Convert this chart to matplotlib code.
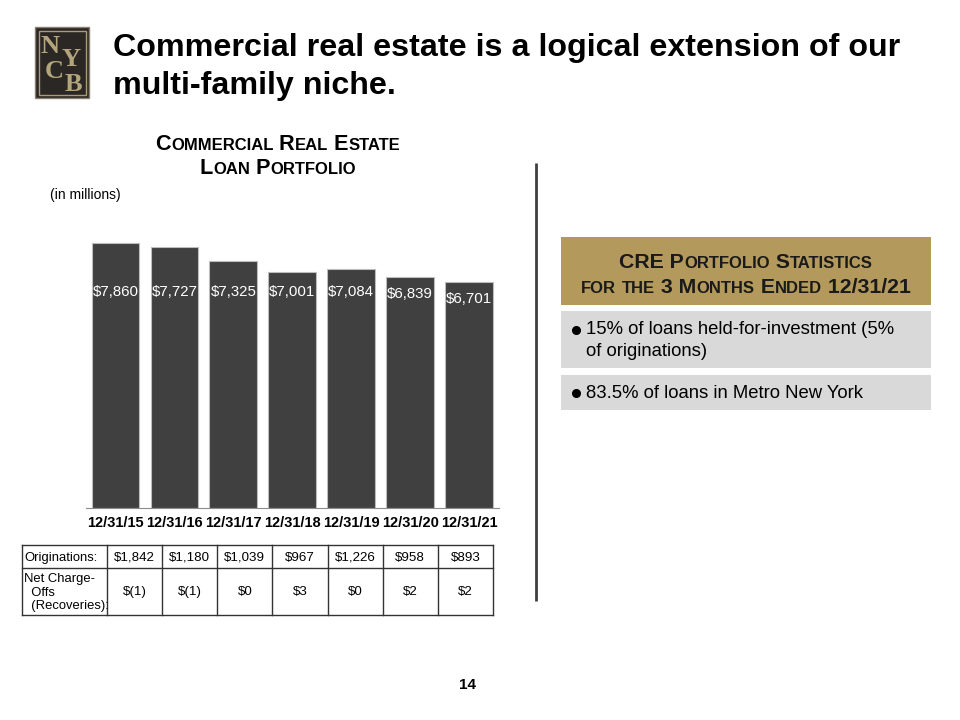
import numpy as np
import matplotlib
matplotlib.use('Agg')
import matplotlib.pyplot as plt
from matplotlib.patches import Rectangle

plt.rcParams['font.family'] = ['Liberation Sans', 'DejaVu Sans']

# data
years = ['12/31/15', '12/31/16', '12/31/17', '12/31/18', '12/31/19', '12/31/20', '12/31/21']
portfolio = [7860, 7727, 7325, 7001, 7084, 6839, 6701]
originations = ['$1,842', '$1,180', '$1,039', '$967', '$1,226', '$958', '$893']
charge_offs = ['$(1)', '$(1)', '$0', '$3', '$0', '$2', '$2']
bullets = ['15% of loans held-for-investment (5%\nof originations)',
           '83.5% of loans in Metro New York']

GOLD = '#b39a5c'
BAR = '#404040'
GREY = '#d9d9d9'

fig = plt.figure(figsize=(9.6, 7.2), dpi=100)
# full page axes in pixel coords for the decorations
page = fig.add_axes([0, 0, 1, 1])
page.set_xlim(0, 960)
page.set_ylim(720, 0)
page.axis('off')
renderer = fig.canvas.get_renderer()


def text_w(s, size, weight):
    t1 = page.text(0, 0, '|' + s + '|', fontsize=size, fontweight=weight)
    t2 = page.text(0, 0, '||', fontsize=size, fontweight=weight)
    w = t1.get_window_extent(renderer).width - t2.get_window_extent(renderer).width
    t1.remove()
    t2.remove()
    return w


def smallcaps(x, y, s, big, small, color='black'):
    # split in runs: upper case / non letters big, lower case as small capitals
    runs = []
    for ch in s:
        sz = small if ch.islower() else big
        if runs and runs[-1][1] == sz:
            runs[-1][0] += ch.upper()
        else:
            runs.append([ch.upper(), sz])
    widths = [text_w(r, sz, 'bold') for r, sz in runs]
    x0 = x - sum(widths) / 2
    for (r, sz), w in zip(runs, widths):
        page.text(x0, y, r, fontsize=sz, fontweight='bold', color=color, va='baseline', ha='left')
        x0 += w


# logo
page.add_patch(Rectangle((35, 27), 54, 71, facecolor='#2b2724', edgecolor='#8a8070', lw=1))
page.add_patch(Rectangle((38.5, 30.5), 47, 64, facecolor='none', edgecolor='#a89b78', lw=1))
for ch, lx, ly in [('N', 50, 53), ('Y', 71, 66), ('C', 54, 78), ('B', 73, 91)]:
    page.text(lx, ly, ch, fontsize=19, family='Liberation Serif', color='#b3a67c',
              ha='center', va='baseline', fontweight='bold')

# slide title
page.text(113, 48, 'Commercial real estate is a logical extension of our', fontsize=23.2,
          fontweight='bold', va='center', ha='left')
page.text(113, 86, 'multi-family niche.', fontsize=23.2, fontweight='bold', va='center', ha='left')

# chart title
smallcaps(278, 149.5, 'Commercial Real Estate', 15.6, 12)
smallcaps(278, 173.5, 'Loan Portfolio', 15.6, 12)
page.text(50, 195, '(in millions)', fontsize=10, va='center', ha='left')

# bar chart
scale = 0.03375  # px per $m
left_px, right_px, bot_px, top_px = 86, 498.5, 508, 200
ax = fig.add_axes([left_px / 960, (720 - bot_px) / 720, (right_px - left_px) / 960, (bot_px - top_px) / 720])
x = np.arange(len(years))
ax.bar(x, portfolio, width=0.81, color=BAR, edgecolor='#bdbdbd', linewidth=0.8)
ax.set_xlim(-0.5, len(years) - 0.5)
ax.set_ylim(0, (bot_px - top_px) / scale)
for i, v in enumerate(portfolio):
    ax.text(i, min(6400, v - 500), '$' + format(v, ','), color='white', fontsize=10.8,
            ha='center', va='center')
ax.set_xticks(x)
ax.set_xticklabels(years, fontsize=10.5, fontweight='bold')
ax.tick_params(axis='x', length=0, pad=6)
ax.set_yticks([])
for sp in ['top', 'left', 'right']:
    ax.spines[sp].set_visible(False)
ax.spines['bottom'].set_color('#8c8c8c')
ax.patch.set_alpha(0)

# table below the chart
t_left, t_col0, t_right = 22, 107, 493
t_top, t_mid, t_bot = 545, 568, 615
colw = (t_right - t_col0) / len(years)
lc = '#333333'
page.plot([t_left, t_right], [t_top, t_top], color=lc, lw=1)
page.plot([t_left, t_right], [t_mid, t_mid], color=lc, lw=1)
page.plot([t_left, t_right], [t_bot, t_bot], color=lc, lw=1)
page.plot([t_left, t_left], [t_top, t_bot], color=lc, lw=1)
for k in range(len(years) + 1):
    xx = t_col0 + k * colw
    page.plot([xx, xx], [t_top, t_bot], color=lc, lw=1)
page.text(t_left + 2, (t_top + t_mid) / 2 + 1, 'Originations:', fontsize=9.4, va='center', ha='left')
page.text(t_left + 2, (t_mid + t_bot) / 2 + 1, 'Net Charge-\n  Offs\n  (Recoveries):', fontsize=9.4,
          va='center', ha='left', linespacing=1.2)
for k in range(len(years)):
    cx = t_col0 + (k + 0.5) * colw
    page.text(cx, (t_top + t_mid) / 2 + 1, originations[k], fontsize=9.6, va='center', ha='center')
    page.text(cx, (t_mid + t_bot) / 2 + 1, charge_offs[k], fontsize=9.6, va='center', ha='center')

# divider
page.plot([536, 536], [163, 601], color='#404040', lw=2, solid_capstyle='butt')

# statistics panel
page.add_patch(Rectangle((561, 237), 370, 68, facecolor=GOLD, edgecolor='none'))
smallcaps(746, 268, 'CRE Portfolio Statistics', 15.3, 12, color='#1a1a1a')
smallcaps(746, 293, 'for the 3 Months Ended 12/31/21', 15.3, 12, color='#1a1a1a')

page.add_patch(Rectangle((561, 311), 370, 57, facecolor=GREY, edgecolor='none'))
page.add_patch(Rectangle((561, 375), 370, 35, facecolor=GREY, edgecolor='none'))
box_y = [330, 393]
for b, by in zip(bullets, box_y):
    page.plot([575.5], [by], marker='o', ms=5.5, color='black')
    for j, line in enumerate(b.split('\n')):
        page.text(586, by + 22 * j, line, fontsize=13.3, va='center', ha='left')

page.text(468, 685, '14', fontsize=11, fontweight='bold', ha='center', va='center')

fig.savefig('out.png', dpi=100)
